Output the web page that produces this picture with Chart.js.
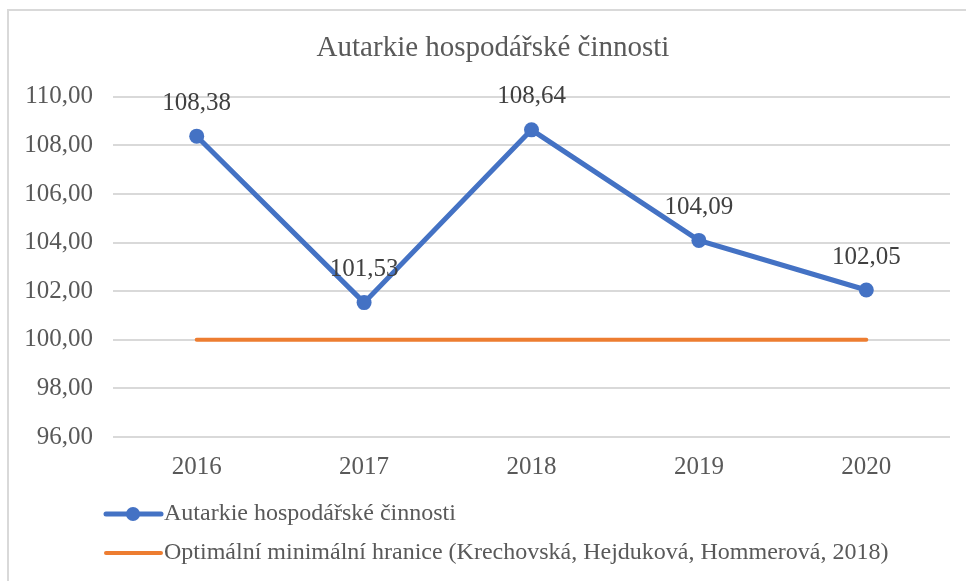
<!DOCTYPE html>
<html>
<head>
<meta charset="utf-8">
<script src="https://cdn.jsdelivr.net/npm/chart.js@4"></script>
<style>
  body { margin: 0; background: #fff; }
  #wrap { position: relative; width: 966px; height: 581px; overflow: hidden; }
  #frame { position: absolute; left: 7px; top: 9px; width: 1000px; height: 1000px; border: 2px solid #d9d9d9; }
  canvas { position: absolute; left: 0; top: 0; }
</style>
</head>
<body>
<div id="wrap">
  <div id="frame"></div>
  <canvas id="chart" width="966" height="581"></canvas>
</div>
<script>
const years = ["2016", "2017", "2018", "2019", "2020"];
const autarkie = [108.38, 101.53, 108.64, 104.09, 102.05];
const optimum = [100, 100, 100, 100, 100];
const yTicks = [96, 98, 100, 102, 104, 106, 108, 110];

const serif = "'Liberation Serif', 'Times New Roman', serif";
const fmt = v => v.toFixed(2).replace(".", ",");

// value labels above the blue points
const valueLabels = {
  id: 'valueLabels',
  afterDatasetsDraw(chart) {
    const ctx = chart.ctx;
    const meta = chart.getDatasetMeta(0);
    ctx.save();
    ctx.font = "25px " + serif;
    ctx.fillStyle = "#404040";
    ctx.textAlign = "center";
    ctx.textBaseline = "middle";
    meta.data.forEach((pt, i) => {
      ctx.fillText(fmt(autarkie[i]), pt.x, pt.y - 33);
    });
    ctx.restore();
  }
};

// title sits a bit right of the canvas centre, like the frame in the original
const shiftTitle = {
  id: 'shiftTitle',
  afterLayout(chart) {
    if (chart.titleBlock) {
      chart.titleBlock.left = 36;
      chart.titleBlock.right = 950;
    }
  }
};

// legend drawn as Excel-like line samples, stacked
const lineLegend = {
  id: 'lineLegend',
  afterDraw(chart) {
    const ctx = chart.ctx;
    ctx.save();
    ctx.font = "24px " + serif;
    ctx.textBaseline = "middle";
    chart.data.datasets.forEach((ds, i) => {
      const y = 514 + i * 39;
      ctx.strokeStyle = ds.borderColor;
      ctx.lineWidth = ds.borderWidth;
      ctx.lineCap = "round";
      ctx.beginPath();
      ctx.moveTo(106, y);
      ctx.lineTo(161, y);
      ctx.stroke();
      if (ds.pointRadius > 0) {
        ctx.fillStyle = ds.borderColor;
        ctx.beginPath();
        ctx.arc(133, y, 7, 0, Math.PI * 2);
        ctx.fill();
      }
      ctx.fillStyle = "#595959";
      ctx.fillText(ds.label, 164, y);
    });
    ctx.restore();
  }
};

new Chart(document.getElementById("chart"), {
  type: 'line',
  data: {
    labels: years,
    datasets: [
      {
        label: 'Autarkie hospodářské činnosti',
        data: autarkie,
        borderColor: '#4472C4',
        backgroundColor: '#4472C4',
        borderWidth: 5,
        pointRadius: 7.5,
        pointBorderWidth: 0,
        tension: 0
      },
      {
        label: 'Optimální minimální hranice (Krechovská, Hejduková, Hommerová, 2018)',
        data: optimum,
        borderColor: '#ED7D31',
        backgroundColor: '#ED7D31',
        borderWidth: 4,
        pointRadius: 0,
        borderCapStyle: 'round'
      }
    ]
  },
  options: {
    responsive: false,
    animation: false,
    layout: { padding: { left: 0, right: 16, top: 0, bottom: 84 } },
    plugins: {
      legend: { display: false },
      tooltip: { enabled: false },
      title: {
        display: true,
        text: 'Autarkie hospodářské činnosti',
        color: '#595959',
        font: { family: serif, size: 29, weight: 'normal' },
        padding: { top: 31, bottom: 31 }
      }
    },
    scales: {
      x: {
        offset: true,
        grid: { display: false, drawTicks: false },
        border: { display: false },
        ticks: { color: '#595959', font: { family: serif, size: 25 }, padding: 15 }
      },
      y: {
        min: 96,
        max: 110,
        afterBuildTicks: s => { s.ticks = yTicks.map(v => ({ value: v })); },
        afterFit: s => { s.width = 113; },
        grid: { color: '#d9d9d9', lineWidth: 2, drawTicks: false },
        border: { display: false },
        ticks: {
          color: '#595959',
          font: { family: serif, size: 25 },
          padding: 20,
          callback: v => fmt(v)
        }
      }
    }
  },
  plugins: [valueLabels, shiftTitle, lineLegend]
});
</script>
</body>
</html>
